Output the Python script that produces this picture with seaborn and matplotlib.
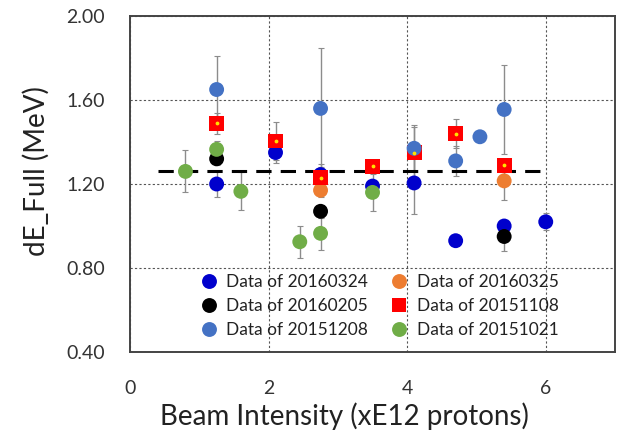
import pandas as pd
import matplotlib.pyplot as plt
import seaborn as sns

# series
series_names = ["Data of 20160324", "Data of 20160325", "Data of 20160205",
                "Data of 20151108", "Data of 20151208", "Data of 20151021"]

x_0324 = [1.25, 2.1, 2.75, 3.5, 4.1, 4.7, 5.4, 6.0]
y_0324 = [1.20, 1.35, 1.245, 1.19, 1.205, 0.93, 1.00, 1.02]
e_0324 = [0.06, 0.05, 0.05, 0.03, 0.15, 0.01, 0.03, 0.04]

x_0325 = [2.75, 5.4]
y_0325 = [1.17, 1.215]
e_0325 = [0.03, 0.09]

x_0205 = [1.25, 2.75, 5.4]
y_0205 = [1.32, 1.07, 0.95]
e_0205 = [0.03, 0.03, 0.07]

x_1108 = [1.25, 2.1, 2.75, 3.5, 4.1, 4.7, 5.4]
y_1108 = [1.49, 1.405, 1.23, 1.285, 1.35, 1.44, 1.29]
e_1108 = [0.05, 0.09, 0.05, 0.02, 0.12, 0.07, 0.03]

x_1208 = [1.25, 2.75, 4.1, 4.7, 5.05, 5.4]
y_1208 = [1.65, 1.56, 1.37, 1.31, 1.425, 1.555]
e_1208 = [0.16, 0.29, 0.11, 0.07, 0.01, 0.21]

x_1021 = [0.8, 1.25, 1.6, 2.45, 2.75, 3.5]
y_1021 = [1.26, 1.365, 1.165, 0.925, 0.965, 1.16]
e_1021 = [0.10, 0.04, 0.09, 0.075, 0.08, 0.09]

mean_level = 1.26
mean_x = [0.4, 6.05]

x_ticks = [0, 2, 4, 6]
y_ticks = [0.40, 0.80, 1.20, 1.60, 2.00]

colors = {"Data of 20160324": "#0000CC", "Data of 20160325": "#ED7D31",
          "Data of 20160205": "#000000", "Data of 20151108": "#FF0000",
          "Data of 20151208": "#4472C4", "Data of 20151021": "#70AD47"}
markers = {n: "o" for n in series_names}
markers["Data of 20151108"] = "s"

frames = []
for name, xs, ys, es in zip(series_names,
                            [x_0324, x_0325, x_0205, x_1108, x_1208, x_1021],
                            [y_0324, y_0325, y_0205, y_1108, y_1208, y_1021],
                            [e_0324, e_0325, e_0205, e_1108, e_1208, e_1021]):
    frames.append(pd.DataFrame({"series": name, "x": xs, "y": ys, "err": es}))
df = pd.concat(frames, ignore_index=True)

sns.set_style("white")
plt.rcParams["font.family"] = ["Lato", "DejaVu Sans"]

fig = plt.figure(figsize=(6.23, 4.45), dpi=100)
ax = fig.add_axes([0.2087, 0.209, 0.7785, 0.755])

# error bars first, in grey
ax.errorbar(df["x"], df["y"], yerr=df["err"], fmt="none", ecolor="#8c8c8c",
            elinewidth=1, capsize=2.5, capthick=0.8, zorder=1)

ax.plot(mean_x, [mean_level, mean_level], color="black", linestyle=(0, (5, 3)),
        linewidth=2.2, zorder=2)

sns.scatterplot(data=df, x="x", y="y", hue="series", style="series",
                hue_order=series_names, style_order=series_names,
                palette=colors, markers=markers, s=115, linewidth=0,
                ax=ax, zorder=3)

red = df[df["series"] == "Data of 20151108"]
ax.scatter(red["x"], red["y"], s=3, color="#FFE000", zorder=4)

ax.set_xlim(0, 7)
ax.set_ylim(0.4, 2.0)
ax.set_xticks(x_ticks)
ax.set_yticks(y_ticks)
ax.set_yticklabels([f"{v:.2f}" for v in y_ticks])
ax.tick_params(length=0, labelsize=14, colors="#333333")
ax.tick_params(axis="x", pad=20)
ax.tick_params(axis="y", pad=18)
ax.grid(True, linestyle=(0, (2, 2)), color="#555555", linewidth=0.8)
for sp in ax.spines.values():
    sp.set_color("#444444")
    sp.set_linewidth(1.4)

ax.set_xlabel("Beam Intensity (xE12 protons)", fontsize=20, color="#222222")
ax.set_ylabel("dE_Full (MeV)", fontsize=20, color="#222222")
ax.xaxis.set_label_coords(0.443, -0.15)
ax.yaxis.set_label_coords(-0.165, 0.54)

# legend fills row by row in the reference: reorder for column-major layout
handles, labels = ax.get_legend_handles_labels()
order = [0, 2, 4, 1, 3, 5]
leg = ax.legend([handles[i] for i in order], [labels[i] for i in order],
                loc="lower center", bbox_to_anchor=(0.505, -0.005), ncol=2,
                frameon=False, fontsize=12.5, handletextpad=0.0,
                columnspacing=0.8, labelspacing=0.45, markerscale=1.0)
for t in leg.get_texts():
    t.set_color("#222222")

plt.savefig("out.png", dpi=100)
